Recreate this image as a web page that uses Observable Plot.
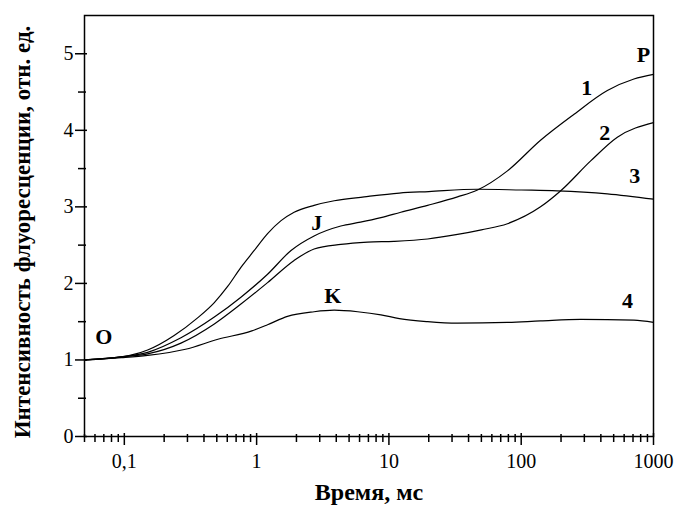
<!DOCTYPE html>
<html>
<head>
<meta charset="utf-8">
<script src="https://cdn.jsdelivr.net/npm/d3@7"></script>
<script src="https://cdn.jsdelivr.net/npm/@observablehq/plot@0.6"></script>
<style>
  html, body { margin: 0; padding: 0; background: white; }
</style>
</head>
<body>
<div id="chart"></div>
<script>
// Curve 1
const t1 = [0.05, 0.095, 0.15, 0.268, 0.479, 0.761, 1.21, 1.82, 2.72, 4.33, 6.1, 8.7, 12.3, 19.6, 33, 46.7, 78.7, 140, 251, 448, 711, 1000];
const v1 = [1.0, 1.04, 1.10, 1.29, 1.56, 1.82, 2.12, 2.43, 2.62, 2.75, 2.80, 2.86, 2.93, 3.02, 3.13, 3.22, 3.47, 3.87, 4.21, 4.52, 4.67, 4.73];
// Curve 2
const t2 = [0.05, 0.095, 0.15, 0.268, 0.479, 0.761, 1.21, 1.92, 2.72, 4.33, 6.9, 10.9, 19.6, 33, 50, 78.7, 140, 199, 335, 533, 1000];
const v2 = [1.0, 1.04, 1.08, 1.22, 1.47, 1.73, 2.01, 2.30, 2.45, 2.51, 2.54, 2.55, 2.58, 2.64, 2.70, 2.78, 3.00, 3.21, 3.60, 3.91, 4.10];
// Curve 3
const t3 = [0.05, 0.095, 0.15, 0.238, 0.358, 0.479, 0.604, 0.761, 0.959, 1.21, 1.53, 1.92, 2.72, 3.86, 6.5, 12, 20, 46.7, 100, 187, 448, 1000];
const v3 = [1.0, 1.04, 1.13, 1.32, 1.55, 1.75, 1.96, 2.21, 2.43, 2.65, 2.82, 2.93, 3.02, 3.08, 3.13, 3.18, 3.20, 3.23, 3.22, 3.21, 3.17, 3.10];
// Curve 4
const t4 = [0.05, 0.095, 0.15, 0.29, 0.51, 0.92, 1.21, 1.71, 2.72, 3.86, 5.8, 8.7, 12, 19.6, 33, 78.7, 140, 282, 711, 1000];
const v4 = [1.0, 1.03, 1.06, 1.14, 1.27, 1.38, 1.46, 1.57, 1.63, 1.65, 1.63, 1.59, 1.54, 1.50, 1.48, 1.49, 1.51, 1.53, 1.52, 1.49];

// Annotation labels
const labelText = ["O", "J", "K", "P", "1", "2", "3", "4"];
const labelT = [0.070, 2.85, 3.77, 841, 313, 428, 721, 637];
const labelV = [1.30, 2.79, 1.84, 4.98, 4.55, 3.96, 3.41, 1.77];

// Ticks
const xMajor = [0.1, 1, 10, 100, 1000];
const xMinor = [0.05,0.06,0.07,0.08,0.09, 0.2,0.3,0.4,0.5,0.6,0.7,0.8,0.9, 2,3,4,5,6,7,8,9, 20,30,40,50,60,70,80,90, 200,300,400,500,600,700,800,900];
const yMajor = [0, 1, 2, 3, 4, 5];
const yMinor = [0.5, 1.5, 2.5, 3.5, 4.5];

const xTitle = "Время, мс";
const yTitle = "Интенсивность флуоресценции, отн. ед.";

const W = 676, H = 509, ML = 84, MR = 23, MT = 15, MB = 73;
const FW = W - ML - MR, FH = H - MT - MB;

const series = [[t1, v1, "1"], [t2, v2, "2"], [t3, v3, "3"], [t4, v4, "4"]];
const data = series.flatMap(([ts, vs, s]) => ts.map((t, i) => ({t, v: vs[i], s})));
const labels = labelText.map((text, i) => ({text, t: labelT[i], v: labelV[i]}));

const chart = Plot.plot({
  width: W,
  height: H,
  marginLeft: ML,
  marginRight: MR,
  marginTop: MT,
  marginBottom: MB,
  style: {fontFamily: "'Liberation Serif', 'Times New Roman', serif", fontSize: "20px", color: "black", background: "white"},
  x: {type: "log", domain: [0.05, 1000]},
  y: {domain: [0, 5.5]},
  marks: [
    Plot.axisX(xMajor, {tickSize: 0, tickPadding: 17, tickFormat: d => String(d).replace(".", ","), label: null, fontSize: 20}),
    Plot.axisY(yMajor, {tickSize: 0, tickPadding: 11, tickFormat: d => String(d), label: null, fontSize: 20}),
    Plot.frame({stroke: "black", strokeWidth: 1.5}),
    Plot.line(data, {x: "t", y: "v", z: "s", stroke: "black", strokeWidth: 1.2, curve: "monotone-x"}),
    Plot.text(labels, {x: "t", y: "v", text: "text", fontWeight: "bold", fontSize: 22, fill: "black"}),
    Plot.text([xTitle], {frameAnchor: "bottom", dy: 63, fontWeight: "bold", fontSize: 24, fill: "black"}),
    Plot.text([yTitle], {frameAnchor: "left", textAnchor: "middle", dx: -62, dy: 6, rotate: -90, fontWeight: "bold", fontSize: 23, fill: "black"}),
    // tick marks on the axes (mainly outward)
    Plot.tickX(xMinor, {x: d => d, stroke: "black", strokeWidth: 1.5, insetTop: FH - 2, insetBottom: -6}),
    Plot.tickX(xMajor, {x: d => d, stroke: "black", strokeWidth: 1.5, insetTop: FH - 3, insetBottom: -9}),
    Plot.tickY(yMinor, {y: d => d, stroke: "black", strokeWidth: 1.5, insetLeft: -6, insetRight: FW - 2}),
    Plot.tickY(yMajor, {y: d => d, stroke: "black", strokeWidth: 1.5, insetLeft: -9, insetRight: FW - 3})
  ]
});

document.getElementById("chart").appendChild(chart);
</script>
</body>
</html>
